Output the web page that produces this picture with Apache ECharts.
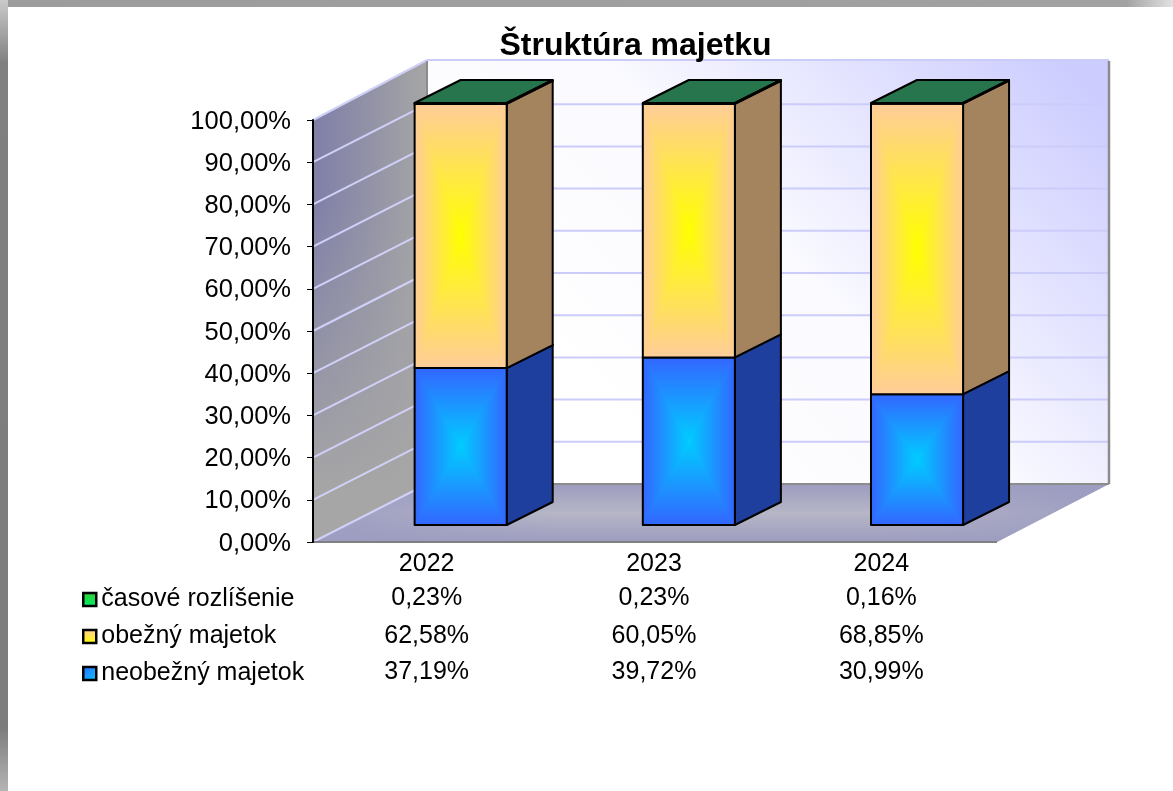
<!DOCTYPE html>
<html>
<head>
<meta charset="utf-8">
<style>
  html,body{margin:0;padding:0;background:#fff;}
  #chart{width:1173px;height:791px;}
</style>
<script src="https://cdn.jsdelivr.net/npm/echarts@6/dist/echarts.min.js"></script>
</head>
<body>
<div id="chart"></div>
<script>
var categories = ['2022','2023','2024']
var neobezny = [37.19,39.72,30.99]
var obezny = [62.58,60.05,68.85]
var casove = [0.23,0.23,0.16]
var yTicks = [0,10,20,30,40,50,60,70,80,90,100]

var FONT = '"Liberation Sans", Arial, sans-serif'
// hlbka 3D: cely priestor a predna stena stlpca
var DEPTH_X = 114, DEPTH_Y = 58
var BAR_DX = 34, BAR_DY = 17
var SIDE_X = 46, SIDE_Y = 23

function grad(x,y,x2,y2,stops){
  return {type:'linear',x:x,y:y,x2:x2,y2:y2,colorStops:stops.map(function(s){return {offset:s[0],color:s[1]}})}
}

function poly(points,fill,stroke,lw){
  var el = {type:'polygon',shape:{points:points},style:{fill:fill}}
  if(stroke){
    el.style.stroke = stroke
    el.style.lineWidth = lw
    el.style.lineJoin = 'round'
  }else{
    el.style.stroke = null
  }
  return el
}

function line(x1,y1,x2,y2,color,lw){
  return {type:'line',shape:{x1:x1,y1:y1,x2:x2,y2:y2},style:{stroke:color,lineWidth:lw}}
}

// steny a podlaha, kresli sa raz
function renderWalls(params,api){
  var g = params.coordSys
  var l = g.x, r = g.x+g.width+2
  var top = api.coord([0,100])[1], bot = api.coord([0,0])[1]
  var dx = DEPTH_X, dy = DEPTH_Y
  var backR = r+dx-2
  var kids = []

  // zadna stena
  kids.push(poly([[l+dx,top-dy-2],[backR,top-dy-2],[backR,bot-dy],[l+dx,bot-dy]],
    grad(0.35,1,1,0,[[0,'#ffffff'],[0.4,'#fafaff'],[0.95,'#ccccff'],[1,'#ccccff']])))
  // bocna stena
  var side = [[l,top],[l+dx,top-dy-2],[l+dx,bot-dy],[l,bot]]
  kids.push(poly(side,grad(0,0,1,0,[[0,'#7f7fa8'],[1,'#a6a6a6']])))
  kids.push(poly(side,grad(0,0,0,1,[[0,'rgba(166,166,166,0)'],[0.3,'rgba(166,166,166,0)'],[0.9,'#a6a6a6'],[1,'#a6a6a6']])))
  // podlaha
  var floor = [[l,bot],[r,bot],[backR,bot-dy],[l+dx,bot-dy]]
  kids.push(poly(floor,grad(0,0,0,1,[[0,'#9c9cc0'],[0.5,'#b6b6c6'],[1,'#9c9cc0']])))
  kids.push(poly(floor,grad(0,0,1,0,[[0,'#9d9dc2'],[0.3,'rgba(157,157,194,0)'],[0.7,'rgba(157,157,194,0)'],[1,'#9d9dc2']])))

  // mriezka
  yTicks.forEach(function(v){
    var y = api.coord([0,v])[1]
    var by = y-dy-(v==100?2:0)
    kids.push(line(l,y,l+dx,by,'#d0d0f8',2))
    if(v>0) kids.push(line(l+dx,by,backR,by,'#ccccfa',2))
  })

  // sive hrany
  kids.push(line(l+dx,top-dy-1,l+dx,bot-dy,'#8c8c8c',2))
  kids.push(line(backR,top-dy-1,backR,bot-dy,'#8c8c8c',2.5))
  kids.push(line(l+dx,bot-dy,backR,bot-dy,'#8c8c8c',2))
  kids.push(line(l,bot,r,bot,'#808080',2))

  return {type:'group',children:kids}
}

function makeBarRender(edge,center,sideColor){
  return function(params,api){
    var p0 = api.coord([api.value(0),api.value(1)])
    var p1 = api.coord([api.value(0),api.value(2)])
    var half = api.size([1,0])[0]*0.405/2
    // v povodnom grafe su stlpce mierne od seba viac nez popisky
    var cx = p0[0]+BAR_DX+api.value(0)*0.85
    var x0 = cx-half, x1 = cx+half
    var yb = p0[1]-BAR_DY, yt = p1[1]-BAR_DY
    var ym = (yb+yt)/2
    var sx = SIDE_X, sy = SIDE_Y
    var hs = [[0,edge],[1,center]]
    var hs2 = [[0,center],[1,edge]]
    var vs = [[0,edge],[0.5,center],[1,edge]]
    var kids = [
      poly([[x0,yt],[x1,yt],[x1+sx,yt-sy],[x0+sx,yt-sy]],'#27754d','#000',2),
      poly([[x1,yt],[x1+sx,yt-sy],[x1+sx,yb-sy],[x1,yb]],sideColor,'#000',2),
      poly([[x0,yt],[x1,yt],[x1,yb],[x0,yb]],grad(0,0,0,1,vs)),
      poly([[x0,yt],[cx,ym],[x0,yb]],grad(0,0,1,0,hs)),
      poly([[x1,yt],[cx,ym],[x1,yb]],grad(0,0,1,0,hs2)),
      poly([[x0,yt],[x1,yt],[x1,yb],[x0,yb]],'none','#000',2)
    ]
    return {type:'group',children:kids}
  }
}

// tabulka s hodnotami pod grafom
var tableRows = [casove,obezny,neobezny]
var tableRowY = [598,636,672]
function renderTable(params,api){
  var x = api.coord([api.value(0),0])[0]
  return {type:'text',style:{
    text:tableRows[api.value(1)][api.value(0)].toFixed(2).replace('.',',')+'%',
    x:x,y:tableRowY[api.value(1)],align:'center',verticalAlign:'middle',
    fill:'#000',fontSize:25,fontFamily:FONT
  }}
}

function stackData(values,below){
  return values.map(function(v,i){
    return [i,below[i],below[i]+v]
  })
}

var base2 = neobezny
var base3 = neobezny.map(function(v,i){return v+obezny[i]})

var tableData = []
categories.forEach(function(c,i){
  tableRows.forEach(function(r,j){
    tableData.push([i,j])
  })
})

var blueKey = grad(0,0,1,1,[[0,'#3366ff'],[1,'#00ccff']])
var orangeKey = grad(0,0,0,1,[[0,'#ffcc99'],[1,'#ffff00']])
var greenKey = grad(0,0,0,1,[[0,'#33cc33'],[1,'#00ee66']])

var chart = echarts.init(document.getElementById('chart'))
chart.setOption({
  animation:false,
  backgroundColor:'#fff',
  title:{
    text:'Štruktúra majetku',left:630.5,top:25,textAlign:'center',
    textStyle:{fontFamily:FONT,fontSize:32,fontWeight:'bold',color:'#000'}
  },
  legend:{
    orient:'vertical',left:77,top:582,itemWidth:13,itemHeight:13,itemGap:12,
    selectedMode:false,icon:'rect',
    textStyle:{fontFamily:FONT,fontSize:25,color:'#000'},
    data:[
      {name:'časové rozlíšenie',itemStyle:{color:greenKey,borderColor:'#000',borderWidth:2.5}},
      {name:'obežný majetok',itemStyle:{color:orangeKey,borderColor:'#000',borderWidth:2.5}},
      {name:'neobežný majetok',itemStyle:{color:blueKey,borderColor:'#000',borderWidth:2.5}}
    ]
  },
  grid:{left:313,right:178,top:120,bottom:249},
  xAxis:{
    type:'category',data:categories,
    axisLine:{show:false},axisTick:{show:false},
    axisLabel:{margin:10,fontFamily:FONT,fontSize:25,color:'#000'}
  },
  yAxis:{
    type:'value',min:0,max:100,interval:10,z:5,
    axisLine:{show:true,lineStyle:{color:'#000',width:2}},
    axisTick:{show:true,length:6,lineStyle:{color:'#000',width:1}},
    splitLine:{show:false},
    axisLabel:{
      margin:22,color:'#000',
      formatter:function(v){return '{a|'+v.toFixed(2).replace('.',',')+'%}'},
      rich:{a:{fontFamily:FONT,fontSize:25.5,color:'#000',padding:[3,0,0,0]}}
    }
  },
  graphic:[
    // tien okolo obrazka
    {type:'rect',silent:true,z:-1,shape:{x:8,y:0,width:1165,height:7},
      style:{fill:grad(0,0,1,0,[[0,'#9c9c9c'],[0.96,'#a2a2a2'],[1,'#e2e2e2']])}},
    {type:'rect',silent:true,z:-1,shape:{x:0,y:0,width:8,height:791},
      style:{fill:grad(0,0,0,1,[[0,'#cacaca'],[0.08,'#808080'],[0.92,'#7c7c7c'],[1,'#b4b4b4']])}}
  ],
  series:[
    {type:'custom',name:'steny',coordinateSystem:'cartesian2d',clip:false,silent:true,z:1,
      renderItem:renderWalls,data:[[0,0]],encode:{x:0,y:1}},
    {type:'custom',name:'neobežný majetok',coordinateSystem:'cartesian2d',clip:false,z:2,
      itemStyle:{color:'#3366ff'},
      renderItem:makeBarRender('#3366ff','#00ccff','#1f3f9f'),
      data:stackData(neobezny,[0,0,0]),encode:{x:0,y:2}},
    {type:'custom',name:'obežný majetok',coordinateSystem:'cartesian2d',clip:false,z:3,
      itemStyle:{color:'#ffcc99'},
      renderItem:makeBarRender('#ffcc99','#ffff00','#a4835f'),
      data:stackData(obezny,base2),encode:{x:0,y:2}},
    {type:'custom',name:'časové rozlíšenie',coordinateSystem:'cartesian2d',clip:false,z:4,
      itemStyle:{color:'#33cc33'},
      renderItem:makeBarRender('#33cc33','#00ee66','#1a6633'),
      data:stackData(casove,base3),encode:{x:0,y:2}},
    {type:'custom',name:'tabulka',coordinateSystem:'cartesian2d',clip:false,silent:true,z:4,
      renderItem:renderTable,data:tableData,encode:{x:0}}
  ]
})
</script>
</body>
</html>
